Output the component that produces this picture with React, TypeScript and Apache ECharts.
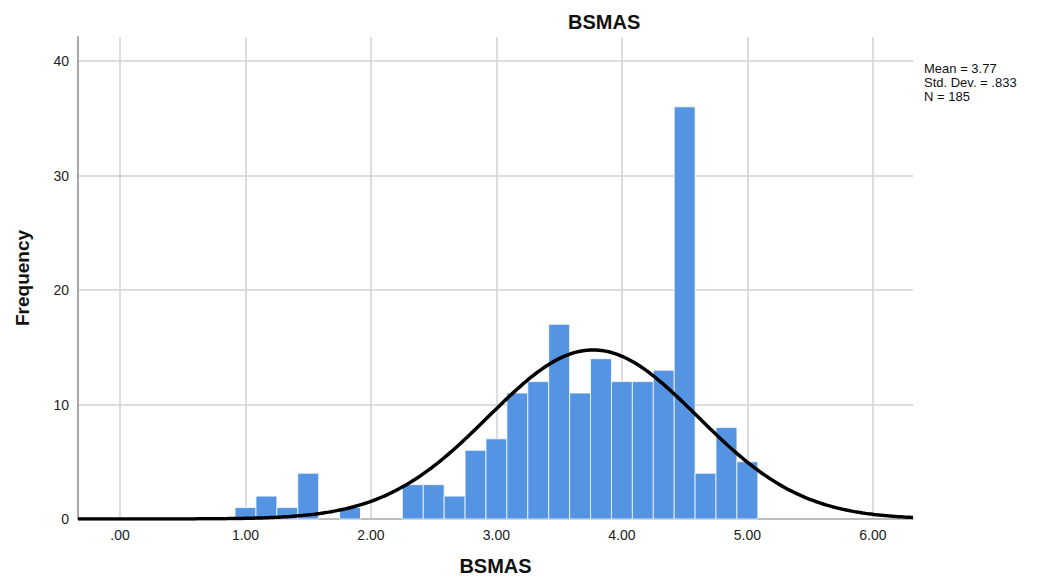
import React, { useEffect, useRef } from "react";
import * as echarts from "echarts";

// Histogram bins (bin centres, width 1/6) and frequencies
const binCenters = [
  1.0, 1.1667, 1.3333, 1.5, 1.6667, 1.8333, 2.0, 2.1667, 2.3333, 2.5, 2.6667, 2.8333,
  3.0, 3.1667, 3.3333, 3.5, 3.6667, 3.8333, 4.0, 4.1667, 4.3333, 4.5, 4.6667, 4.8333, 5.0,
];
const frequencies = [
  1, 2, 1, 4, 0, 1, 0, 0, 3, 3, 2, 6,
  7, 11, 12, 17, 11, 14, 12, 12, 13, 36, 4, 8, 5,
];
const BIN_WIDTH = 1 / 6;

// Summary statistics shown in the chart
const MEAN = 3.77;
const STD_DEV = 0.833;
const N = 185;
const statsLines = ["Mean = 3.77", "Std. Dev. = .833", "N = 185"];

const xTicks = [0, 1, 2, 3, 4, 5, 6];
const X_MIN = -0.335;
const X_MAX = 6.32;
const Y_MAX = 42.1;

const FONT = "'Liberation Sans', Arial, sans-serif";

function normalCurve(): number[][] {
  const pts: number[][] = [];
  const steps = 300;
  for (let i = 0; i <= steps; i++) {
    const x = X_MIN + ((X_MAX - X_MIN) * i) / steps;
    const z = (x - MEAN) / STD_DEV;
    const y = (N * BIN_WIDTH * Math.exp(-0.5 * z * z)) / (STD_DEV * Math.sqrt(2 * Math.PI));
    pts.push([x, y]);
  }
  return pts;
}

export default function App() {
  const ref = useRef<HTMLDivElement>(null);

  useEffect(() => {
    if (!ref.current) return;
    const chart = echarts.init(ref.current, null, { renderer: "svg" });
    const barData = binCenters
      .map((c, i) => [c, frequencies[i]])
      .filter((d) => d[1] > 0);

    chart.setOption({
      animation: false,
      backgroundColor: "#ffffff",
      title: {
        text: "BSMAS",
        left: 563,
        top: 7,
        textStyle: { fontFamily: FONT, fontSize: 20, fontWeight: "bold", color: "#111" },
      },
      grid: { left: 78, right: 132, top: 37, bottom: 64, containLabel: false },
      xAxis: {
        type: "value",
        min: X_MIN,
        max: X_MAX,
        splitNumber: 6,
        name: "BSMAS",
        nameLocation: "middle",
        nameGap: 37,
        nameTextStyle: { fontFamily: FONT, fontSize: 20, fontWeight: "bold", color: "#111" },
        axisLine: { show: true, onZero: false, lineStyle: { color: "#a8a8a8", width: 1.5 } },
        axisTick: { show: false },
        axisLabel: {
          showMinLabel: false,
          showMaxLabel: false,
          margin: 9,
          fontFamily: FONT,
          fontSize: 14,
          color: "#222",
          formatter: (v: number) => {
            if (!xTicks.some((t) => Math.abs(t - v) < 1e-6)) return "";
            return v.toFixed(2).replace(/^0/, "");
          },
        },
        splitLine: {
          show: true,
          showMinLine: false,
          showMaxLine: false,
          lineStyle: { color: "#d2d2d2", width: 1.5 },
        },
      },
      yAxis: {
        type: "value",
        min: 0,
        max: Y_MAX,
        interval: 10,
        name: "Frequency",
        nameLocation: "middle",
        nameGap: 46,
        nameTextStyle: { fontFamily: FONT, fontSize: 19, fontWeight: "bold", color: "#111" },
        axisLine: { show: true, onZero: false, lineStyle: { color: "#a8a8a8", width: 2 } },
        axisTick: { show: false },
        axisLabel: {
          showMaxLabel: false,
          margin: 9,
          fontFamily: FONT,
          fontSize: 14,
          color: "#222",
        },
        splitLine: {
          show: true,
          showMinLine: false,
          showMaxLine: false,
          lineStyle: { color: "#d2d2d2", width: 1.5 },
        },
      },
      graphic: [
        {
          type: "text",
          left: 924,
          top: 61,
          style: {
            text: statsLines.join("\n"),
            fontFamily: FONT,
            fontSize: 13,
            lineHeight: 14,
            fill: "#111",
          },
        },
      ],
      series: [
        {
          type: "custom",
          name: "Frequency",
          data: barData,
          z: 2,
          renderItem: (params: any, api: any) => {
            const c = api.value(0);
            const v = api.value(1);
            const p1 = api.coord([c - BIN_WIDTH / 2, v]);
            const p2 = api.coord([c + BIN_WIDTH / 2, 0]);
            return {
              type: "rect",
              shape: { x: p1[0], y: p1[1], width: p2[0] - p1[0], height: p2[1] - p1[1] },
              style: { fill: "#5594e3", stroke: "rgba(255,255,255,0.75)", lineWidth: 1 },
            };
          },
        },
        {
          type: "line",
          name: "Normal",
          data: normalCurve(),
          showSymbol: false,
          smooth: false,
          z: 3,
          lineStyle: { color: "#000", width: 3.5 },
        },
      ],
    });
    return () => chart.dispose();
  }, []);

  return <div ref={ref} style={{ width: 1045, height: 583, position: "fixed", left: 0, top: 0 }} />;
}
